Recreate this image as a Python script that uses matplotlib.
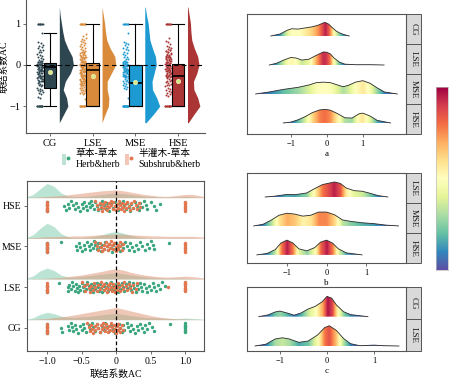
import numpy as np
import matplotlib
matplotlib.use("Agg")
import matplotlib.pyplot as plt
from matplotlib.patches import Patch, Rectangle, Polygon
from matplotlib.lines import Line2D
from matplotlib.legend_handler import HandlerTuple

plt.rcParams["font.family"] = ["Liberation Serif", "Noto Sans CJK SC"]

# ── Data ──────────────────────────────────────────────────────────────────────
groups = ["CG", "LSE", "MSE", "HSE"]
group_colors = ["#2e4650", "#d98b3b", "#1d9ad1", "#ab3535"]

box_q1 = [-0.55, -1.0, -1.0, -1.0]
box_med = [-0.05, -0.12, -0.43, -0.27]
box_q3 = [0.05, 0.05, 0.0, 0.02]
whis_lo = [-1.0, -1.0, -1.0, -1.0]
whis_hi = [0.78, 1.0, 1.0, 1.0]
ac_mean = [-0.18, -0.28, -0.42, -0.38]

violin_grid = [-1.4, -1.2, -1.0, -0.8, -0.6, -0.4, -0.2, 0.0, 0.2, 0.4, 0.6, 0.8, 1.0, 1.2, 1.4]
violin_cg = [0.0, 0.1, 0.2, 0.17, 0.09, 0.14, 0.26, 0.33, 0.3, 0.2, 0.12, 0.08, 0.05, 0.02, 0.0]
violin_lse = [0.0, 0.07, 0.15, 0.16, 0.12, 0.12, 0.22, 0.32, 0.3, 0.19, 0.11, 0.08, 0.06, 0.03, 0.0]
violin_mse = [0.03, 0.2, 0.35, 0.28, 0.18, 0.17, 0.22, 0.27, 0.25, 0.18, 0.12, 0.1, 0.08, 0.04, 0.01]
violin_hse = [0.02, 0.15, 0.29, 0.24, 0.15, 0.14, 0.22, 0.27, 0.24, 0.16, 0.1, 0.08, 0.07, 0.04, 0.01]

# AC values per group, split by pair type
cg_herb = [-1.0, -1.0, -1.0, -1.0, -0.8, -0.78, -0.7, -0.68, -0.66, -0.64, -0.62, -0.6,
           -0.58, -0.55, -0.52, -0.5, -0.48, -0.46, -0.43, -0.4, -0.38, -0.35, -0.33,
           -0.3, -0.28, -0.26, -0.23, -0.2, -0.18, -0.16, -0.13, -0.1, -0.08, -0.05,
           -0.02, 0.0, 0.02, 0.04, 0.06, 0.08, 0.1, 0.12, 0.15, 0.17, 0.2, 0.22, 0.24,
           0.27, 0.3, 0.32, 0.35, 0.37, 0.4, 0.42, 0.45, 0.48, 0.52, 0.55, 0.78,
           1.0, 1.0, 1.0, 1.0, 1.0, 1.0, 1.0, 1.0]
cg_sub = [-1.0, -1.0, -1.0, -1.0, -1.0, -1.0, -1.0, -1.0, -0.42, -0.4, -0.38, -0.36,
          -0.35, -0.33, -0.31, -0.3, -0.28, -0.26, -0.24, -0.22, -0.2, -0.19, -0.18,
          -0.16, -0.15, -0.13, -0.12, -0.1, -0.09, -0.08, -0.06, -0.05, -0.03, -0.02,
          0.0, 0.01, 0.02, 0.03, 0.05, 0.06, 0.08, 0.1]
lse_herb = [-1.0, -1.0, -1.0, -0.83, -0.7, -0.69, -0.68, -0.66, -0.64, -0.62, -0.6,
            -0.58, -0.57, -0.55, -0.54, -0.52, -0.5, -0.48, -0.47, -0.45, -0.44, -0.42,
            -0.4, -0.38, -0.37, -0.35, -0.34, -0.32, -0.3, -0.28, -0.27, -0.25, -0.24,
            -0.22, -0.2, -0.18, -0.17, -0.15, -0.14, -0.12, -0.1, -0.08, -0.07, -0.05,
            -0.03, -0.01, 0.0, 0.02, 0.04, 0.06, 0.08, 0.1, 0.12, 0.14, 0.16, 0.18, 0.2,
            0.22, 0.24, 0.26, 0.28, 0.3, 0.32, 0.34, 0.36, 0.38, 0.4, 0.43, 0.45, 0.48,
            0.5, 0.53, 0.55, 0.58, 0.6, 0.63, 0.66, 0.71, 1.0, 1.0]
lse_sub = [-1.0, -1.0, -1.0, -1.0, -1.0, -1.0, -1.0, -1.0, -0.5, -0.47, -0.45, -0.42,
           -0.4, -0.38, -0.36, -0.34, -0.32, -0.3, -0.28, -0.26, -0.24, -0.22, -0.2,
           -0.18, -0.17, -0.15, -0.14, -0.12, -0.11, -0.09, -0.08, -0.06, -0.05, -0.03,
           -0.02, 0.0, 0.01, 0.03, 0.04, 0.06, 0.08, 0.1, 0.12, 0.14, 0.16, 0.18, 0.2,
           0.23, 0.25, 0.28, 0.3, 0.75, 1.0, 1.0, 1.0, 1.0, 1.0, 1.0, 1.0, 1.0]
mse_herb = [-1.0, -1.0, -1.0, -1.0, -1.0, -1.0, -1.0, -1.0, -0.8, -0.58, -0.56, -0.54,
            -0.52, -0.5, -0.47, -0.45, -0.42, -0.4, -0.38, -0.36, -0.34, -0.32, -0.3,
            -0.28, -0.26, -0.24, -0.22, -0.2, -0.18, -0.16, -0.14, -0.12, -0.1, -0.08,
            -0.06, -0.04, -0.02, 0.0, 0.03, 0.05, 0.08, 0.1, 0.13, 0.15, 0.18, 0.2, 0.23,
            0.26, 0.29, 0.32, 0.35, 0.38, 0.41, 0.44, 0.47, 0.5, 0.53, 0.55, 0.76]
mse_sub = [-1.0, -1.0, -1.0, -1.0, -1.0, -1.0, -1.0, -1.0, -0.3, -0.28, -0.26, -0.24,
           -0.22, -0.2, -0.18, -0.17, -0.15, -0.13, -0.12, -0.1, -0.09, -0.07, -0.06,
           -0.04, -0.03, -0.01, 0.0, 0.02, 0.03, 0.05, 0.06, 0.08, 0.1,
           1.0, 1.0, 1.0, 1.0, 1.0, 1.0, 1.0, 1.0]
hse_herb = [-1.0, -1.0, -1.0, -1.0, -0.75, -0.72, -0.7, -0.68, -0.66, -0.63, -0.6, -0.58,
            -0.55, -0.52, -0.5, -0.48, -0.47, -0.44, -0.42, -0.4, -0.38, -0.36, -0.35,
            -0.32, -0.3, -0.28, -0.27, -0.24, -0.22, -0.2, -0.18, -0.15, -0.13, -0.12,
            -0.1, -0.08, -0.05, -0.02, 0.0, 0.02, 0.05, 0.08, 0.1, 0.12, 0.14, 0.16, 0.18,
            0.2, 0.22, 0.25, 0.27, 0.3, 0.33, 0.35, 0.38, 0.4, 0.43, 0.45, 0.5, 0.55,
            0.58, 0.64]
hse_sub = [-1.0, -1.0, -1.0, -1.0, -1.0, -1.0, -1.0, -1.0, -0.3, -0.28, -0.26, -0.24,
           -0.22, -0.2, -0.19, -0.17, -0.16, -0.14, -0.13, -0.11, -0.1, -0.08, -0.07,
           -0.05, -0.04, -0.02, -0.01, 0.01, 0.02, 0.04, 0.05, 0.07, 0.08, 0.1, 0.11,
           0.13, 0.14, 0.16, 0.18, 0.2, 0.22, 0.24, 0.26, 0.28, 0.3, 0.33, 0.35,
           1.0, 1.0, 1.0, 1.0, 1.0, 1.0, 1.0, 1.0]

herb_sets = [cg_herb, lse_herb, mse_herb, hse_herb]
sub_sets = [cg_sub, lse_sub, mse_sub, hse_sub]

# half densities of the horizontal raincloud, on a 0.1 grid from -1.3 to 1.3
dens_grid = np.linspace(-1.3, 1.3, 27)
dens_herb_cg = [0.01, 0.05, 0.13, 0.18, 0.15, 0.09, 0.06, 0.06, 0.07, 0.08, 0.1, 0.12, 0.14,
                0.15, 0.13, 0.1, 0.08, 0.06, 0.05, 0.04, 0.03, 0.03, 0.03, 0.04, 0.03, 0.02, 0.01]
dens_sub_cg = [0.0, 0.01, 0.02, 0.03, 0.05, 0.07, 0.09, 0.12, 0.15, 0.18, 0.21, 0.24, 0.27,
               0.3, 0.26, 0.22, 0.18, 0.14, 0.1, 0.07, 0.05, 0.03, 0.02, 0.02, 0.01, 0.01, 0.0]
dens_herb_lse = [0.02, 0.08, 0.2, 0.27, 0.21, 0.1, 0.05, 0.05, 0.06, 0.08, 0.1, 0.12, 0.14,
                 0.15, 0.13, 0.1, 0.08, 0.06, 0.04, 0.03, 0.02, 0.02, 0.02, 0.02, 0.01, 0.01, 0.0]
dens_sub_lse = [0.0, 0.01, 0.01, 0.02, 0.03, 0.04, 0.06, 0.08, 0.1, 0.13, 0.16, 0.19, 0.23,
                0.25, 0.22, 0.17, 0.13, 0.1, 0.08, 0.06, 0.05, 0.05, 0.06, 0.07, 0.06, 0.04, 0.02]
dens_herb_mse = [0.02, 0.09, 0.25, 0.37, 0.29, 0.12, 0.04, 0.02, 0.02, 0.03, 0.05, 0.09, 0.14,
                 0.17, 0.13, 0.08, 0.04, 0.02, 0.01, 0.01, 0.01, 0.01, 0.01, 0.01, 0.01, 0.0, 0.0]
dens_sub_mse = [0.01, 0.02, 0.03, 0.04, 0.04, 0.05, 0.05, 0.06, 0.06, 0.07, 0.08, 0.09, 0.1,
                0.11, 0.1, 0.09, 0.08, 0.07, 0.06, 0.06, 0.05, 0.05, 0.05, 0.05, 0.05, 0.04, 0.03]
dens_herb_hse = [0.02, 0.08, 0.22, 0.35, 0.28, 0.12, 0.04, 0.03, 0.03, 0.04, 0.06, 0.08, 0.1,
                 0.11, 0.1, 0.08, 0.06, 0.04, 0.03, 0.02, 0.02, 0.02, 0.02, 0.03, 0.02, 0.01, 0.0]
dens_sub_hse = [0.01, 0.01, 0.02, 0.03, 0.04, 0.05, 0.07, 0.09, 0.11, 0.13, 0.15, 0.17, 0.18,
                0.19, 0.17, 0.14, 0.11, 0.08, 0.06, 0.04, 0.03, 0.04, 0.06, 0.08, 0.08, 0.05, 0.02]
dens_herb = [dens_herb_cg, dens_herb_lse, dens_herb_mse, dens_herb_hse]
dens_sub = [dens_sub_cg, dens_sub_lse, dens_sub_mse, dens_sub_hse]

# ridgelines (x, height in row units, colour value at peak)
ridge_a_labels = ["CG", "LSE", "MSE", "HSE"]
ridge_a_x = [
    [-1.56, -1.3, -1.1, -0.98, -0.8, -0.6, -0.4, -0.25, -0.1, -0.05, 0.05, 0.15, 0.25, 0.35, 0.45, 0.62],
    [-1.6, -1.4, -1.2, -1.0, -0.85, -0.7, -0.5, -0.3, -0.1, 0.0, 0.1, 0.2, 0.35, 0.5, 0.8, 1.2, 1.59],
    [-1.98, -1.6, -1.2, -0.8, -0.5, -0.3, -0.1, 0.1, 0.3, 0.45, 0.6, 0.8, 1.0, 1.2, 1.4, 1.6, 1.96],
    [-1.21, -1.0, -0.8, -0.6, -0.4, -0.2, -0.05, 0.1, 0.3, 0.5, 0.7, 0.9, 1.0, 1.2, 1.4, 1.77],
]
ridge_a_h = [
    [0.0, 0.07, 0.2, 0.25, 0.24, 0.28, 0.32, 0.37, 0.45, 0.47, 0.41, 0.29, 0.18, 0.11, 0.06, 0.0],
    [0.0, 0.06, 0.17, 0.26, 0.24, 0.17, 0.2, 0.33, 0.45, 0.44, 0.38, 0.24, 0.1, 0.03, 0.01, 0.01, 0.0],
    [0.0, 0.07, 0.16, 0.23, 0.31, 0.39, 0.41, 0.39, 0.31, 0.25, 0.3, 0.41, 0.46, 0.37, 0.21, 0.07, 0.0],
    [0.0, 0.03, 0.11, 0.22, 0.36, 0.45, 0.47, 0.44, 0.32, 0.18, 0.17, 0.32, 0.34, 0.24, 0.09, 0.0],
]
ridge_a_peak = [0.95, 0.93, 0.57, 0.8]

ridge_b_labels = ["LSE", "MSE", "HSE"]
ridge_b_x = [
    [-1.55, -1.3, -1.0, -0.8, -0.5, -0.3, -0.1, 0.1, 0.2, 0.35, 0.5, 0.7, 0.9, 1.1, 1.3, 1.55],
    [-1.84, -1.6, -1.4, -1.2, -1.0, -0.8, -0.6, -0.4, -0.2, 0.0, 0.2, 0.4, 0.6, 0.9, 1.2, 1.5, 1.82],
    [-1.76, -1.5, -1.3, -1.15, -1.0, -0.85, -0.7, -0.5, -0.3, -0.15, 0.0, 0.15, 0.3, 0.5, 0.9],
]
ridge_b_h = [
    [0.0, 0.03, 0.09, 0.08, 0.14, 0.29, 0.43, 0.49, 0.52, 0.47, 0.31, 0.22, 0.2, 0.13, 0.05, 0.0],
    [0.0, 0.06, 0.2, 0.37, 0.44, 0.41, 0.34, 0.37, 0.48, 0.48, 0.39, 0.21, 0.16, 0.11, 0.08, 0.03, 0.0],
    [0.0, 0.05, 0.18, 0.41, 0.51, 0.41, 0.21, 0.14, 0.25, 0.44, 0.51, 0.41, 0.21, 0.07, 0.0],
]
ridge_b_peak = [0.95, 0.76, 0.96]

ridge_c_labels = ["CG", "LSE"]
ridge_c_x = [
    [-1.45, -1.25, -1.1, -1.0, -0.85, -0.7, -0.55, -0.4, -0.25, -0.1, 0.0, 0.1, 0.2, 0.35, 0.5, 0.87],
    [-1.53, -1.3, -1.1, -0.95, -0.8, -0.6, -0.4, -0.2, -0.05, 0.05, 0.2, 0.35, 0.5, 0.7, 1.0, 1.2, 1.53],
]
ridge_c_h = [
    [0.0, 0.06, 0.16, 0.19, 0.125, 0.05, 0.125, 0.26, 0.35, 0.51, 0.69, 0.63, 0.4, 0.17, 0.07, 0.0],
    [0.0, 0.06, 0.24, 0.28, 0.24, 0.125, 0.17, 0.375, 0.625, 0.69, 0.53, 0.26, 0.08, 0.01, 0.03, 0.01, 0.0],
]
ridge_c_peak = [0.97, 0.86]

C_HERB_PT, C_SUB_PT = "#3aa67e", "#e3754f"
C_HERB_FILL, C_SUB_FILL = "#6cc4a3", "#de9171"
SPINE = "#555555"


def jitter(n, width):
    """Deterministic spread (golden-ratio sequence) centred on zero."""
    k = np.arange(n)
    return ((k * 0.618034) % 1.0 - 0.5) * width


def style_spines(ax, which=("left", "bottom", "top", "right")):
    for s in ("left", "bottom", "top", "right"):
        ax.spines[s].set_visible(s in which)
        ax.spines[s].set_color(SPINE)
        ax.spines[s].set_linewidth(0.8)


fig = plt.figure(figsize=(4.5, 3.78), dpi=100)

# ── Top-left: vertical raincloud ──────────────────────────────────────────────
ax1 = fig.add_axes([26 / 450, 1 - 133 / 378, 179 / 450, 133 / 378])
violins = [violin_cg, violin_lse, violin_mse, violin_hse]
stats = []
for i, g in enumerate(groups):
    pos = i + 1
    c = group_colors[i]
    ax1.fill_betweenx(violin_grid, pos + 0.22, pos + 0.22 + np.array(violins[i]),
                      color=c, lw=0, zorder=2)
    vals = np.array(herb_sets[i] + sub_sets[i])
    ax1.scatter(pos - 0.23 + jitter(len(vals), 0.14), vals, s=2.0, color=c,
                lw=0, zorder=3)
    stats.append(dict(q1=box_q1[i], med=box_med[i], q3=box_q3[i],
                      whislo=whis_lo[i], whishi=whis_hi[i], mean=ac_mean[i],
                      label=g))

bp = ax1.bxp(stats, positions=[1, 2, 3, 4], widths=0.3, patch_artist=True,
             showmeans=True, showfliers=False, capwidths=0.3,
             boxprops=dict(lw=0.8, edgecolor="black"),
             medianprops=dict(color="black", lw=1.2),
             whiskerprops=dict(color="black", lw=0.8),
             capprops=dict(color="black", lw=0.8),
             meanprops=dict(marker="o", markersize=3.2, markerfacecolor="#dbe98a",
                            markeredgecolor="#f4f4c8", markeredgewidth=0.4))
for patch, c in zip(bp["boxes"], group_colors):
    patch.set_facecolor(c)
    patch.set_zorder(4)
for key in ("medians", "whiskers", "caps", "means"):
    for art in bp[key]:
        art.set_zorder(5)

ax1.axhline(0, color="black", lw=0.8, ls=(0, (4, 3)), zorder=6)
ax1.set_xlim(0.44, 4.63)
ax1.set_ylim(-1.65, 1.57)
ax1.set_yticks([-1, 0, 1])
ax1.set_xticks([1, 2, 3, 4])
ax1.set_xticklabels(groups)
ax1.tick_params(labelsize=7.5, length=2, width=0.6, color=SPINE, pad=2)
ax1.set_ylabel("联结系数AC", fontsize=7)
ax1.yaxis.set_label_coords(-0.1, 0.5)
style_spines(ax1, ("left", "bottom"))

legend_handles = [
    (Patch(facecolor="#bfe3d3", edgecolor="none"),
     Line2D([], [], marker="o", ls="", color=C_HERB_PT, markersize=1.8)),
    (Patch(facecolor="#f4c6b6", edgecolor="none"),
     Line2D([], [], marker="o", ls="", color=C_SUB_PT, markersize=1.8)),
]
fig.legend(legend_handles, ["草本-草本\nHerb&herb", "半灌木-草本\nSubshrub&herb"],
           handler_map={tuple: HandlerTuple(ndivide=None)},
           loc="center left", bbox_to_anchor=(57 / 450, 1 - 159 / 378), ncol=2,
           frameon=False, fontsize=7, handlelength=0.8, handleheight=1.3,
           handletextpad=0.6, columnspacing=0.5, borderpad=0, labelspacing=0)

# ── Bottom-left: horizontal raincloud by pair type ────────────────────────────
ax2 = fig.add_axes([27 / 450, 1 - 351 / 378, 177 / 450, 170 / 378])
for i, g in enumerate(groups):
    row = i + 1
    base = row + 0.2
    ax2.fill_between(dens_grid, base, base + np.array(dens_herb[i]),
                     color=C_HERB_FILL, alpha=0.45, lw=0, zorder=1)
    ax2.fill_between(dens_grid, base, base + np.array(dens_sub[i]),
                     color=C_SUB_FILL, alpha=0.5, lw=0, zorder=2)
    h = np.array(herb_sets[i])
    s = np.array(sub_sets[i])
    ax2.scatter(h, row + jitter(len(h), 0.26), s=6, color=C_HERB_PT, lw=0, zorder=3)
    ax2.scatter(s, row + jitter(len(s), 0.26), s=6, color=C_SUB_PT, lw=0, zorder=4)
ax2.axvline(0, color="black", lw=0.9, ls=(0, (3, 2)), zorder=5)
ax2.set_xlim(-1.29, 1.27)
ax2.set_ylim(0.43, 4.61)
ax2.set_yticks([1, 2, 3, 4])
ax2.set_yticklabels(groups)
ax2.set_xticks([-1.0, -0.5, 0.0, 0.5, 1.0])
ax2.set_xticklabels(["−1.0", "−0.5", "0", "0.5", "1.0"])
ax2.tick_params(labelsize=7, length=2, width=0.6, color=SPINE, pad=2)
ax2.set_xlabel("联结系数AC", fontsize=7, labelpad=3)
style_spines(ax2)


# ── Right: ridgelines coloured by density ─────────────────────────────────────
def ridge_panel(rect, xs_list, hs_list, peaks, labels, xlim, ylim, letter):
    ax = fig.add_axes(rect)
    n = len(labels)
    for j in range(n):
        base = n - 1 - j
        xs = np.array(xs_list[j])
        hs = np.array(hs_list[j])
        verts = np.column_stack([np.r_[xs, xs[::-1]],
                                 np.r_[base + hs, np.full(len(xs), base)]])
        poly = Polygon(verts, closed=True, facecolor="none", edgecolor="none")
        ax.add_patch(poly)
        xf = np.linspace(xs[0], xs[-1], 400)
        vals = np.interp(xf, xs, hs) / hs.max() * peaks[j]
        img = ax.imshow(vals[np.newaxis, :], cmap="Spectral_r", vmin=0, vmax=1,
                        extent=(xs[0], xs[-1], base, base + hs.max()),
                        aspect="auto", origin="lower", interpolation="bilinear",
                        zorder=2)
        img.set_clip_path(poly)
        ax.plot(xs, base + hs, color="#2a2a2a", lw=0.6, zorder=3)
    ax.set_xlim(*xlim)
    ax.set_ylim(*ylim)
    ax.set_yticks([])
    ax.set_xticks([-1, 0, 1])
    ax.tick_params(labelsize=6, length=2, width=0.6, color=SPINE, pad=2)
    ax.set_xlabel(letter, fontsize=6.5, labelpad=2)
    style_spines(ax)
    # facet strips on the right
    for j, lab in enumerate(labels):
        y0 = 1 - (j + 1) / n
        ax.add_patch(Rectangle((1.0, y0), 15 / 450 / rect[2], 1 / n,
                               transform=ax.transAxes, clip_on=False,
                               facecolor="#d9d9d9", edgecolor=SPINE, lw=0.7))
        ax.text(1.0 + 7.5 / 450 / rect[2], y0 + 0.5 / n, lab, rotation=-90,
                transform=ax.transAxes, ha="center", va="center", fontsize=6.5,
                color="#1a1a1a")
    return ax


ridge_panel([247 / 450, 1 - 134 / 378, 159 / 450, 120 / 378], ridge_a_x, ridge_a_h,
            ridge_a_peak, ridge_a_labels, (-2.22, 2.2), (-0.38, 3.76), "a")
ridge_panel([247 / 450, 1 - 263 / 378, 159 / 450, 90 / 378], ridge_b_x, ridge_b_h,
            ridge_b_peak, ridge_b_labels, (-2.01, 2.01), (-0.28, 2.83), "b")
ridge_panel([247 / 450, 1 - 351 / 378, 159 / 450, 64 / 378], ridge_c_x, ridge_c_h,
            ridge_c_peak, ridge_c_labels, (-1.7, 1.68), (-0.17, 2.01), "c")

# colour bar
cax = fig.add_axes([436 / 450, 1 - 270 / 378, 12 / 450, 183 / 378])
cax.imshow(np.linspace(0, 1, 256)[:, np.newaxis], cmap="Spectral_r", aspect="auto",
           origin="lower", extent=(0, 1, 0, 1))
cax.set_xticks([])
cax.set_yticks([])
for s in cax.spines.values():
    s.set_color("#bbbbbb")
    s.set_linewidth(0.5)

fig.savefig("out.png", dpi=100, facecolor="white")
